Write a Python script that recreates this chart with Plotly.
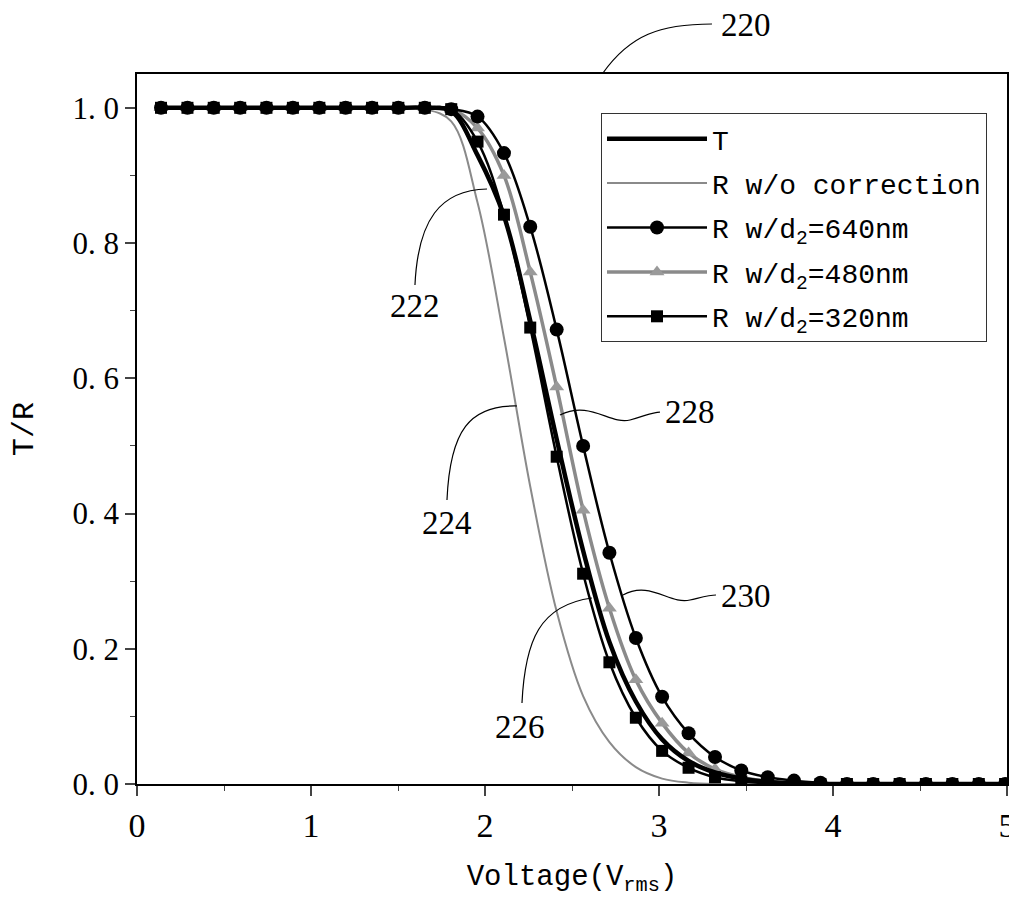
import plotly.graph_objects as go

# ---- data ----
voltage = [0.138, 0.290, 0.441, 0.593, 0.744, 0.896, 1.048, 1.199, 1.351, 1.502,
           1.654, 1.806, 1.957, 2.109, 2.260, 2.412, 2.564, 2.715, 2.867, 3.018,
           3.170, 3.322, 3.473, 3.625, 3.776, 3.928, 4.080, 4.231, 4.383, 4.534,
           4.686, 4.838, 4.989]

T_vals = [1, 1, 1, 1, 1, 1, 1, 1, 1, 1,
          1.0, 0.995, 0.93, 0.84, 0.685, 0.51, 0.345, 0.21, 0.122, 0.066,
          0.034, 0.017, 0.008, 0.003, 0.001, 0, 0, 0, 0, 0,
          0, 0, 0]
R_wo = [1, 1, 1, 1, 1, 1, 1, 1, 1, 1,
        0.998, 0.98, 0.86, 0.66, 0.44, 0.255, 0.13, 0.062, 0.025, 0.008,
        0.002, 0, 0, 0, 0, 0, 0, 0, 0, 0,
        0, 0, 0]
R_640 = [1, 1, 1, 1, 1, 1, 1, 1, 1, 1,
         1.0, 0.998, 0.987, 0.933, 0.824, 0.672, 0.500, 0.342, 0.216, 0.129,
         0.075, 0.040, 0.020, 0.010, 0.005, 0.002, 0, 0, 0, 0,
         0, 0, 0]
R_480 = [1, 1, 1, 1, 1, 1, 1, 1, 1, 1,
         1.0, 0.998, 0.97, 0.90, 0.757, 0.587, 0.405, 0.26, 0.154, 0.09,
         0.046, 0.022, 0.010, 0.004, 0.001, 0, 0, 0, 0, 0,
         0, 0, 0]
R_320 = [1, 1, 1, 1, 1, 1, 1, 1, 1, 1,
         1.0, 0.998, 0.95, 0.842, 0.675, 0.484, 0.311, 0.180, 0.098, 0.049,
         0.024, 0.010, 0.004, 0.001, 0, 0, 0, 0, 0, 0,
         0, 0, 0]

x_ticks = [0, 1, 2, 3, 4, 5]
y_ticks = [0.0, 0.2, 0.4, 0.6, 0.8, 1.0]
y_ticktext = ["0. 0", "0. 2", "0. 4", "0. 6", "0. 8", "1. 0"]

SERIF = "Liberation Serif"
MONO = "Liberation Mono"

fig = go.Figure()
fig.add_trace(go.Scatter(x=voltage, y=R_wo, mode="lines", name="R w/o correction",
                         legendgroup="g2", legendrank=2,
                         line=dict(color="#8a8a8a", width=2, shape="spline")))
fig.add_trace(go.Scatter(x=voltage, y=R_480, mode="lines+markers", name="R w/d<sub>2</sub>=480nm",
                         legendgroup="g4", legendrank=4,
                         line=dict(color="#8a8a8a", width=3.5, shape="spline"),
                         marker=dict(symbol="triangle-up", size=13, color="#9a9a9a")))
fig.add_trace(go.Scatter(x=voltage, y=R_640, mode="lines+markers", name="R w/d<sub>2</sub>=640nm",
                         legendgroup="g3", legendrank=3,
                         line=dict(color="black", width=2.5, shape="spline"),
                         marker=dict(symbol="circle", size=14, color="black")))
fig.add_trace(go.Scatter(x=voltage, y=R_320, mode="lines+markers", name="R w/d<sub>2</sub>=320nm",
                         legendgroup="g5", legendrank=5,
                         line=dict(color="black", width=2.5, shape="spline"),
                         marker=dict(symbol="square", size=12, color="black")))
fig.add_trace(go.Scatter(x=voltage, y=T_vals, mode="lines", name="T",
                         legendgroup="g1", legendrank=1,
                         line=dict(color="black", width=4.5, shape="spline")))

# page layout: body has an 8px margin, so the figure is offset by 8px
OFF = 8
PLOT_L, PLOT_T, PLOT_R, PLOT_B = 137, 74, 1007, 784   # plot box in page pixels
W, H = 1009, 901
ML, MT = PLOT_L - OFF, PLOT_T - OFF
MR = W - (PLOT_R - OFF)
MB = H - (PLOT_B - OFF)
PW, PH = PLOT_R - PLOT_L, PLOT_B - PLOT_T


def px(xp):
    return (xp - PLOT_L) / PW


def py(yp):
    return (PLOT_B - yp) / PH


def path(points):
    s = ""
    for cmd, pts in points:
        s += cmd + " " + " ".join(f"{px(a):.4f},{py(b):.4f}" for a, b in pts) + " "
    return s.strip()


leaders = [
    [("M", [(603, 73)]), ("C", [(630, 35), (660, 24), (712, 24)])],
    [("M", [(415, 285)]), ("C", [(418, 220), (440, 190), (487, 189)])],
    [("M", [(447, 500)]), ("C", [(450, 430), (470, 405), (517, 406)])],
    [("M", [(522, 703)]), ("C", [(525, 640), (540, 605), (592, 598)])],
    [("M", [(560, 415)]), ("C", [(590, 400), (610, 425), (630, 420)]),
     ("C", [(645, 416), (652, 412), (660, 412)])],
    [("M", [(623, 595)]), ("C", [(650, 580), (670, 605), (690, 600)]),
     ("C", [(703, 597), (710, 595), (716, 595)])],
]
for ld in leaders:
    fig.add_shape(type="path", path=path(ld), xref="paper", yref="paper",
                  line=dict(color="black", width=1.2))

labels = [("220", 746, 25), ("222", 415, 306), ("224", 447, 523),
          ("226", 520, 727), ("228", 690, 412), ("230", 746, 596)]
for txt, xx, yy in labels:
    fig.add_annotation(text=txt, x=px(xx), y=py(yy), xref="paper", yref="paper",
                       showarrow=False, font=dict(family=SERIF, size=33, color="black"),
                       xanchor="center", yanchor="middle")

fig.update_layout(
    width=W, height=H,
    margin=dict(l=ML, r=MR, t=MT, b=MB, autoexpand=False),
    paper_bgcolor="white", plot_bgcolor="white",
    font=dict(family=MONO, size=28, color="black"),
    showlegend=True,
    legend=dict(x=px(601), y=py(113), xanchor="left", yanchor="top",
                bgcolor="white", bordercolor="#333333", borderwidth=1,
                font=dict(family=MONO, size=28, color="black"),
                itemwidth=100, tracegroupgap=5, traceorder="grouped"),
)
fig.update_xaxes(range=[0, 5], tickvals=x_ticks, ticks="outside", ticklen=10, tickwidth=1.5,
                 showline=True, linecolor="black", linewidth=1.5, mirror=True,
                 showgrid=False, zeroline=False, automargin=False,
                 ticklabeloverflow="allow",
                 minor=dict(dtick=0.5, ticks="outside", ticklen=5, tickwidth=1.2),
                 title=dict(text="Voltage(V<sub>rms</sub>)", standoff=22,
                            font=dict(family=MONO, size=29)),
                 tickfont=dict(family=SERIF, size=34))
fig.update_yaxes(range=[0, 1.05], tickvals=y_ticks, ticktext=y_ticktext, ticks="outside",
                 ticklen=10, tickwidth=1.5,
                 showline=True, linecolor="black", linewidth=1.5, mirror=True,
                 showgrid=False, zeroline=False, automargin=False,
                 ticklabeloverflow="allow",
                 minor=dict(dtick=0.1, ticks="outside", ticklen=5, tickwidth=1.2),
                 title=dict(text="T/R", standoff=40, font=dict(family=MONO, size=30)),
                 tickfont=dict(family=SERIF, size=31))

fig.write_html("out.html")
